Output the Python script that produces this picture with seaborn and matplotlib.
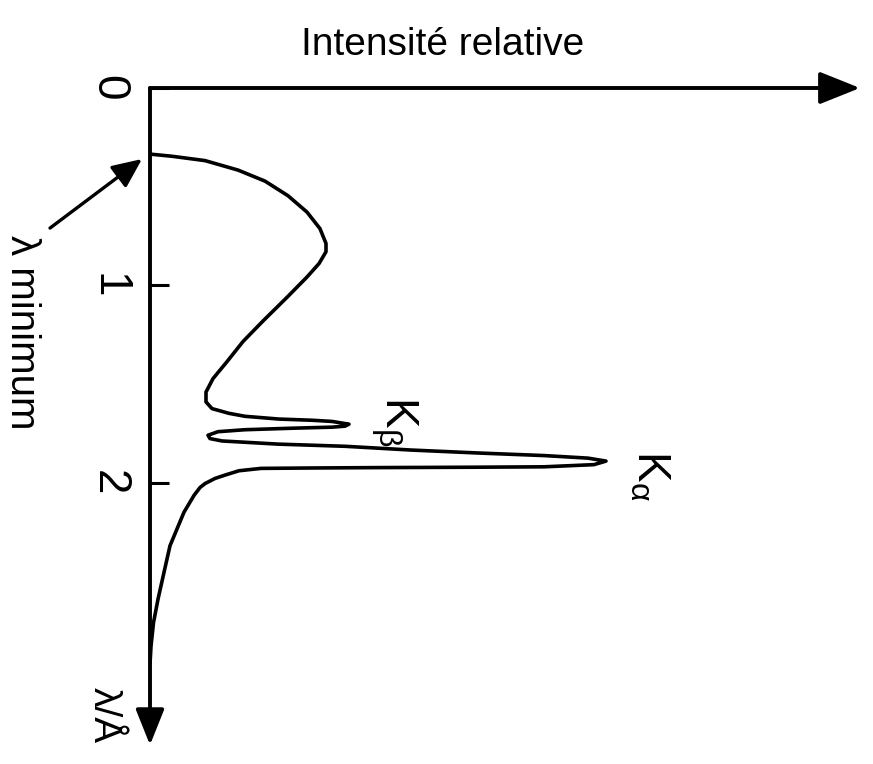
import matplotlib
matplotlib.use('Agg')
import matplotlib.pyplot as plt
import seaborn as sns

# Data (wavelength in Å, intensity in arbitrary units)
wavelength = [0.335, 0.346, 0.368, 0.416, 0.472, 0.546, 0.629, 0.713, 0.788, 0.830,
              0.890, 0.958, 1.061, 1.181, 1.285, 1.387, 1.473, 1.541, 1.591, 1.625,
              1.649, 1.664, 1.678, 1.684, 1.690, 1.704, 1.714, 1.719, 1.724, 1.732,
              1.742, 1.760, 1.777, 1.789, 1.805, 1.816, 1.835, 1.850, 1.863, 1.876,
              1.891, 1.909, 1.920, 1.922, 1.924, 1.926, 1.928, 1.940, 1.962, 1.979,
              2.005, 2.025, 2.065, 2.150, 2.235, 2.320, 2.455, 2.591, 2.710, 2.830,
              2.920]
intensity = [0.0, 0.22, 0.55, 0.88, 1.15, 1.38, 1.57, 1.70, 1.76, 1.76,
             1.69, 1.57, 1.37, 1.13, 0.93, 0.77, 0.63, 0.56, 0.56, 0.62,
             0.79, 0.95, 1.29, 1.62, 1.82, 1.99, 1.95, 1.82, 1.45, 0.95,
             0.68, 0.58, 0.60, 0.72, 1.28, 1.95, 2.61, 3.28, 3.94, 4.38,
             4.56, 4.44, 3.94, 3.27, 2.28, 1.61, 1.11, 0.89, 0.75, 0.65,
             0.55, 0.50, 0.44, 0.34, 0.27, 0.20, 0.14, 0.08, 0.035, 0.01,
             0.0]
tick_values = [0, 1, 2]
tick_labels = ['0', '1', '2']

sns.set_theme(style='white')
plt.rcParams['font.family'] = ['Liberation Sans', 'DejaVu Sans']
plt.rcParams['text.color'] = 'black'
plt.rcParams['ytick.color'] = 'black'
plt.rcParams['ytick.labelcolor'] = 'black'

fig = plt.figure(figsize=(8.73, 7.64), dpi=100)
ax = fig.add_axes([150 / 873, 1 - 745 / 764, 710 / 873, 657 / 764])

sns.lineplot(x=intensity, y=wavelength, sort=False, estimator=None,
             color='black', lw=2.6, ax=ax)

ax.set_xlim(0, 7.1)
ax.set_ylim(3.33, 0)
for s in ax.spines.values():
    s.set_visible(False)

# axes drawn as arrows
ax.annotate('', xy=(7.1, 0), xytext=(0, 0), annotation_clip=False,
            arrowprops=dict(arrowstyle='-|>,head_length=1.0,head_width=0.4',
                            mutation_scale=25, lw=2.8, color='black',
                            shrinkA=0, shrinkB=0))
ax.annotate('', xy=(0, 3.33), xytext=(0, 0), annotation_clip=False,
            arrowprops=dict(arrowstyle='-|>,head_length=1.0,head_width=0.4',
                            mutation_scale=22, lw=2.8, color='black',
                            shrinkA=0, shrinkB=0))

ax.set_xticks([])
ax.set_yticks(tick_values)
ax.set_yticklabels(tick_labels, rotation=-90, va='center', fontsize=33)
ax.tick_params(axis='y', direction='in', length=14, width=2.2, pad=14,
               left=True, color='black')

ax.text(2.93, -0.218, 'Intensité relative', ha='center', va='center',
        fontsize=28)

# lambda minimum pointer
ax.annotate('', xy=(-0.08, 0.36), xytext=(-1.0, 0.71), annotation_clip=False,
            arrowprops=dict(arrowstyle='-|>,head_length=1.0,head_width=0.45',
                            mutation_scale=18, lw=2.4, color='black',
                            shrinkA=0, shrinkB=0))
ax.text(-1.28, 1.24, 'λ minimum', rotation=-90, ha='center', va='center',
        fontsize=29)

ax.text(2.44, 1.69, r'$\mathregular{K_{\beta}}$', rotation=-90, ha='center',
        va='center', fontsize=33)
ax.text(5.0, 1.965, r'$\mathregular{K_{\alpha}}$', rotation=-90, ha='center',
        va='center', fontsize=33)
ax.text(-0.28, 3.18, 'λ/Å', rotation=-90, ha='right', va='center',
        fontsize=28)

fig.savefig('out.png', dpi=100)
